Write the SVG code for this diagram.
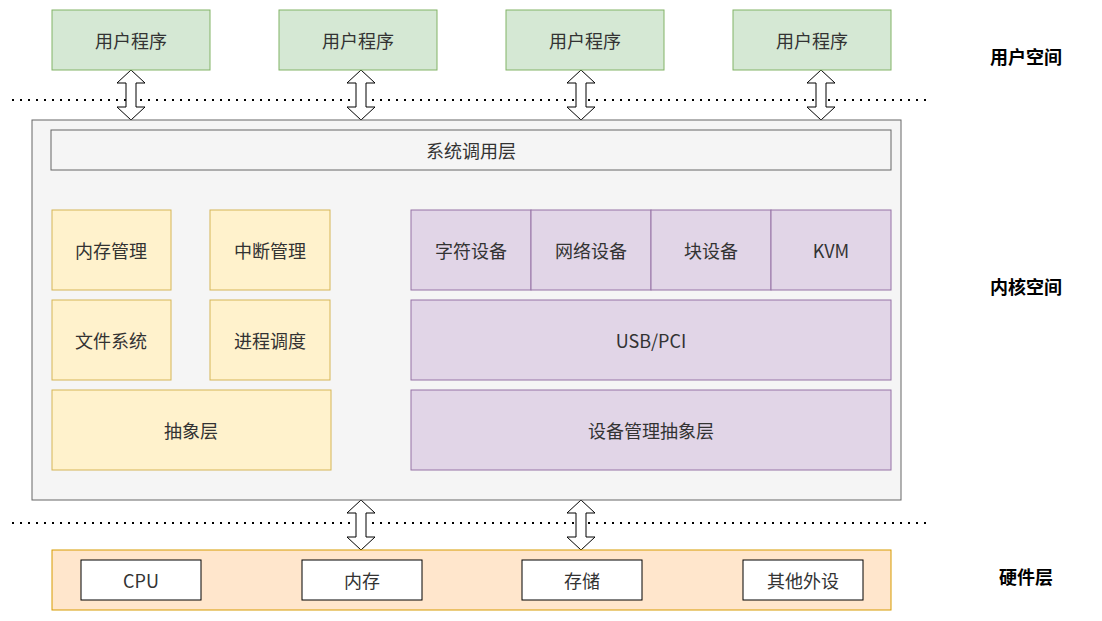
<svg xmlns="http://www.w3.org/2000/svg" width="1102" height="621" viewBox="0 0 1102 621">
<defs>
<style>
text{font-family:"Noto Sans CJK SC","Liberation Sans",sans-serif;font-size:18px;fill:#333;text-anchor:middle;dominant-baseline:central}
.b{font-weight:bold;fill:#000;font-size:18px}
.u{fill:#d5e8d4;stroke:#82b366}
.y{fill:#fff2cc;stroke:#d6b656}
.p{fill:#e1d5e7;stroke:#9673a6}
.ar{fill:#fff;stroke:#000;stroke-width:1}
.dot{stroke:#000;stroke-width:2;stroke-dasharray:2 6}
</style>
<path id="arr" class="ar" d="M0,0 L14,13 L5,13 L5,37 L14,37 L0,50 L-14,37 L-5,37 L-5,13 L-14,13 Z"/>
</defs>
<rect width="1102" height="621" fill="#fff"/>
<g id="connectors">
<line class="dot" x1="12" y1="100" x2="930" y2="100"/>
<line class="dot" x1="12" y1="523" x2="930" y2="523"/>
<use href="#arr" x="131" y="70"/>
<use href="#arr" x="361" y="70"/>
<use href="#arr" x="581" y="70"/>
<use href="#arr" x="821" y="70"/>
<use href="#arr" x="361" y="500"/>
<use href="#arr" x="581" y="500"/>
</g>
<g id="u1"><rect class="u" x="52" y="10" width="158" height="60"/><text x="131" y="40">用户程序</text></g>
<g id="u2"><rect class="u" x="279" y="10" width="158" height="60"/><text x="358" y="40">用户程序</text></g>
<g id="u3"><rect class="u" x="506" y="10" width="158" height="60"/><text x="585" y="40">用户程序</text></g>
<g id="u4"><rect class="u" x="733" y="10" width="158" height="60"/><text x="812" y="40">用户程序</text></g>
<g id="kernel"><rect x="32" y="120" width="869" height="380" fill="#f5f5f5" stroke="#666"/></g>
<g id="syscall"><rect x="51" y="130" width="840" height="40" fill="#f5f5f5" stroke="#666"/><text x="471" y="150">系统调用层</text></g>
<g id="mem"><rect class="y" x="52" y="210" width="119" height="80"/><text x="111" y="250">内存管理</text></g>
<g id="irq"><rect class="y" x="210" y="210" width="120" height="80"/><text x="270" y="250">中断管理</text></g>
<g id="fs"><rect class="y" x="52" y="300" width="119" height="80"/><text x="111" y="340">文件系统</text></g>
<g id="sched"><rect class="y" x="210" y="300" width="120" height="80"/><text x="270" y="340">进程调度</text></g>
<g id="abs"><rect class="y" x="52" y="390" width="279" height="80"/><text x="191" y="430">抽象层</text></g>
<g id="chr"><rect class="p" x="411" y="210" width="120" height="80"/><text x="471" y="250">字符设备</text></g>
<g id="net"><rect class="p" x="531" y="210" width="120" height="80"/><text x="591" y="250">网络设备</text></g>
<g id="blk"><rect class="p" x="651" y="210" width="120" height="80"/><text x="711" y="250">块设备</text></g>
<g id="kvm"><rect class="p" x="771" y="210" width="120" height="80"/><text x="831" y="250">KVM</text></g>
<g id="usb"><rect class="p" x="411" y="300" width="480" height="80"/><text x="651" y="340">USB/PCI</text></g>
<g id="dev"><rect class="p" x="411" y="390" width="480" height="80"/><text x="651" y="430">设备管理抽象层</text></g>
<g id="hw"><rect x="52" y="550" width="839" height="60" fill="#ffe6cc" stroke="#d79b00"/></g>
<g id="cpu"><rect x="81" y="560" width="120" height="40" fill="#fff" stroke="#000"/><text x="141" y="580">CPU</text></g>
<g id="ram"><rect x="302" y="560" width="120" height="40" fill="#fff" stroke="#000"/><text x="362" y="580">内存</text></g>
<g id="sto"><rect x="522" y="560" width="120" height="40" fill="#fff" stroke="#000"/><text x="582" y="580">存储</text></g>
<g id="oth"><rect x="743" y="560" width="120" height="40" fill="#fff" stroke="#000"/><text x="803" y="580">其他外设</text></g>
<text class="b" x="1026" y="56">用户空间</text>
<text class="b" x="1026" y="286">内核空间</text>
<text class="b" x="1026" y="576">硬件层</text>
</svg>
